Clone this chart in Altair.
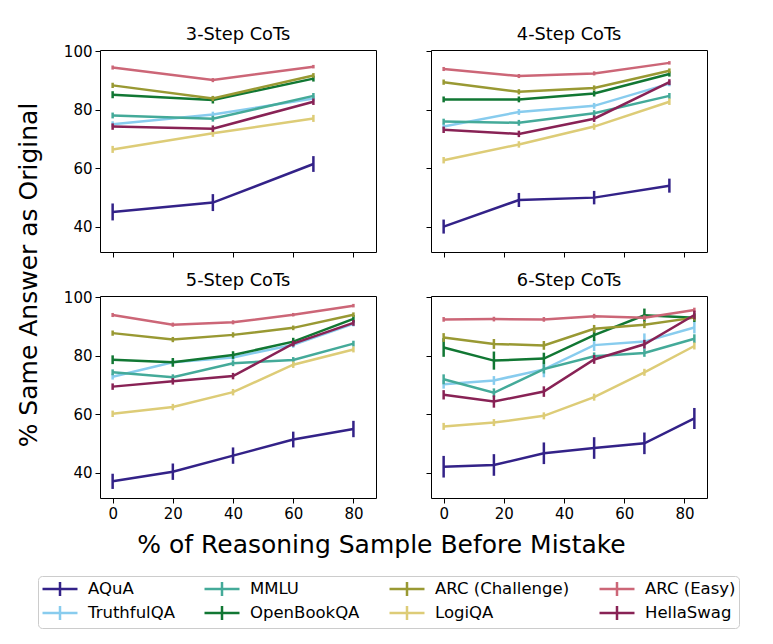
import altair as alt
import pandas as pd

# ---------------- data ----------------
series = ["AQuA", "TruthfulQA", "MMLU", "OpenBookQA",
          "ARC (Challenge)", "LogiQA", "ARC (Easy)", "HellaSwag"]
series_colors = ["#332288", "#88CCEE", "#44AA99", "#117733",
                 "#999933", "#DDCC77", "#CC6677", "#882255"]

panel_titles = ["3-Step CoTs", "4-Step CoTs", "5-Step CoTs", "6-Step CoTs"]
y_title = "% Same Answer as Original"
x_title = "% of Reasoning Sample Before Mistake"

x_3 = [0, 33.3, 66.7]
x_4 = [0, 25, 50, 75]
x_5 = [0, 20, 40, 60, 80]
x_6 = [0, 16.7, 33.3, 50, 66.7, 83.3]

vals_3 = {
    "AQuA":            [45.0, 48.2, 61.4],
    "TruthfulQA":      [75.0, 78.3, 83.8],
    "MMLU":            [78.0, 76.9, 84.7],
    "OpenBookQA":      [85.1, 83.3, 90.6],
    "ARC (Challenge)": [88.3, 83.8, 91.7],
    "LogiQA":          [66.4, 71.9, 77.0],
    "ARC (Easy)":      [94.4, 90.1, 94.7],
    "HellaSwag":       [74.2, 73.5, 82.7],
}
errs_3 = {
    "AQuA":            [2.9, 2.9, 2.7],
    "TruthfulQA":      [1.0, 1.0, 1.0],
    "MMLU":            [1.0, 1.0, 1.0],
    "OpenBookQA":      [1.2, 1.2, 1.0],
    "ARC (Challenge)": [0.9, 0.9, 0.8],
    "LogiQA":          [1.2, 1.2, 1.2],
    "ARC (Easy)":      [0.7, 0.7, 0.6],
    "HellaSwag":       [1.1, 1.1, 1.1],
}

vals_4 = {
    "AQuA":            [40.0, 49.1, 49.9, 54.0],
    "TruthfulQA":      [74.2, 79.2, 81.3, 88.9],
    "MMLU":            [75.9, 75.5, 78.8, 84.7],
    "OpenBookQA":      [83.5, 83.5, 85.5, 92.2],
    "ARC (Challenge)": [89.4, 86.1, 87.4, 93.3],
    "LogiQA":          [62.7, 68.1, 74.2, 82.7],
    "ARC (Easy)":      [93.9, 91.5, 92.4, 96.0],
    "HellaSwag":       [73.1, 71.7, 76.9, 89.4],
}
errs_4 = {
    "AQuA":            [2.4, 2.4, 2.3, 2.4],
    "TruthfulQA":      [1.0, 1.0, 1.0, 0.9],
    "MMLU":            [1.0, 1.0, 1.0, 1.0],
    "OpenBookQA":      [1.0, 1.0, 1.0, 0.9],
    "ARC (Challenge)": [0.9, 0.9, 0.9, 0.8],
    "LogiQA":          [1.1, 1.1, 1.1, 1.1],
    "ARC (Easy)":      [0.7, 0.7, 0.7, 0.6],
    "HellaSwag":       [1.1, 1.1, 1.1, 1.0],
}

vals_5 = {
    "AQuA":            [37.0, 40.3, 45.8, 51.3, 54.9],
    "TruthfulQA":      [72.8, 77.7, 79.4, 83.7, 90.9],
    "MMLU":            [74.3, 72.6, 77.4, 78.5, 84.1],
    "OpenBookQA":      [78.6, 77.7, 80.2, 84.8, 92.6],
    "ARC (Challenge)": [87.7, 85.5, 87.1, 89.5, 94.0],
    "LogiQA":          [60.1, 62.4, 67.5, 76.9, 82.1],
    "ARC (Easy)":      [93.9, 90.6, 91.4, 94.0, 97.1],
    "HellaSwag":       [69.4, 71.2, 73.0, 84.1, 91.2],
}
errs_5 = {
    "AQuA":            [2.6, 2.8, 2.8, 2.7, 2.8],
    "TruthfulQA":      [1.0, 1.0, 1.0, 1.0, 0.9],
    "MMLU":            [1.0, 1.0, 1.0, 1.0, 1.0],
    "OpenBookQA":      [1.5, 1.5, 1.3, 1.3, 1.3],
    "ARC (Challenge)": [0.9, 0.9, 0.9, 0.8, 0.8],
    "LogiQA":          [1.1, 1.1, 1.1, 1.1, 1.0],
    "ARC (Easy)":      [0.7, 0.7, 0.7, 0.6, 0.6],
    "HellaSwag":       [1.1, 1.1, 1.1, 1.0, 1.0],
}

vals_6 = {
    "AQuA":            [42.0, 42.6, 46.6, 48.4, 50.0, 58.5],
    "TruthfulQA":      [70.2, 71.5, 75.3, 83.6, 84.8, 89.6],
    "MMLU":            [71.9, 67.3, 75.4, 79.8, 80.9, 85.8],
    "OpenBookQA":      [82.8, 78.3, 79.0, 87.0, 93.8, 93.0],
    "ARC (Challenge)": [86.2, 84.0, 83.5, 89.2, 90.6, 93.0],
    "LogiQA":          [55.8, 57.1, 59.4, 65.8, 74.3, 83.3],
    "ARC (Easy)":      [92.4, 92.5, 92.4, 93.5, 93.0, 95.6],
    "HellaSwag":       [66.6, 64.3, 67.7, 78.7, 83.9, 93.9],
}
errs_6 = {
    "AQuA":            [3.7, 3.7, 3.7, 3.7, 3.7, 3.6],
    "TruthfulQA":      [1.5, 1.5, 2.7, 2.0, 2.8, 2.0],
    "MMLU":            [1.7, 1.5, 1.5, 1.3, 1.3, 1.5],
    "OpenBookQA":      [3.2, 3.1, 2.0, 2.0, 2.3, 1.5],
    "ARC (Challenge)": [1.5, 1.7, 1.5, 1.3, 1.2, 1.0],
    "LogiQA":          [1.2, 1.2, 1.2, 1.2, 1.2, 1.2],
    "ARC (Easy)":      [0.8, 0.8, 0.8, 0.8, 0.8, 0.8],
    "HellaSwag":       [1.6, 2.1, 1.8, 1.5, 1.5, 1.5],
}

x_ticks = [0, 20, 40, 60, 80]
y_ticks = [40, 60, 80, 100]

# ---------------- table ----------------
rows = []
for title, xs, vals, errs in zip(panel_titles, [x_3, x_4, x_5, x_6],
                                 [vals_3, vals_4, vals_5, vals_6],
                                 [errs_3, errs_4, errs_5, errs_6]):
    for s in series:
        for xv, v, e in zip(xs, vals[s], errs[s]):
            rows.append({"panel": title, "series": s, "x": xv, "y": v,
                         "lo": v - e, "hi": v + e})
df = pd.DataFrame(rows)

FONT = "DejaVu Sans"
X_DOM = [-4.2, 87.5]
Y_DOM = [31.3, 100.4]
PW, PH = 276, 202

color_enc = alt.Color(
    "series:N",
    scale=alt.Scale(domain=series, range=series_colors),
    legend=alt.Legend(
        title=None, orient="none", legendX=-62, legendY=526,
        columns=4, columnPadding=24, rowPadding=0,
        symbolType="M-2,0H2M0,-0.8V0.8", symbolSize=306,
        symbolOffset=9, symbolStrokeWidth=2.5, symbolFillColor="transparent",
        labelFontSize=16.5, labelFont=FONT, labelColor="black",
        labelOffset=18, padding=3, strokeColor="#cccccc",
        cornerRadius=4, fillColor="white",
    ),
)

title_style = dict(titleFont=FONT, titleFontSize=25, titleFontWeight="normal",
                   titleColor="black", titleAlign="center", titleBaseline="middle")


def panel(title, show_x, show_y, x_axis_title=None, y_axis_title=None):
    d = df[df["panel"] == title]
    x_axis = dict(values=x_ticks, labels=show_x, title=x_axis_title)
    y_axis = dict(values=y_ticks, labels=show_y, title=y_axis_title)
    if x_axis_title:
        x_axis.update(title_style, titleX=281, titleY=46)
    if y_axis_title:
        y_axis.update(title_style, titleX=-72, titleY=224.5, titleAngle=270)
    x_enc = alt.X("x:Q", scale=alt.Scale(domain=X_DOM, nice=False, zero=False),
                  axis=alt.Axis(**x_axis))
    y_enc = alt.Y("y:Q", scale=alt.Scale(domain=Y_DOM, nice=False, zero=False),
                  axis=alt.Axis(**y_axis))
    layers = []
    for s in series:
        ds = d[d["series"] == s]
        base = alt.Chart(ds)
        layers.append(base.mark_line(strokeWidth=2.5).encode(x=x_enc, y=y_enc, color=color_enc))
        layers.append(base.mark_rule(strokeWidth=2.5).encode(
            x=x_enc, y=alt.Y("lo:Q", scale=alt.Scale(domain=Y_DOM, nice=False, zero=False)),
            y2="hi:Q", color=color_enc))
    # panels with y labels have bounds reaching above the frame; compensate
    title_offset = 0 if show_y else 6
    return alt.layer(*layers).properties(
        width=PW, height=PH,
        title=alt.TitleParams(title, fontSize=17.8, fontWeight="normal", font=FONT,
                              anchor="middle", color="black", offset=title_offset,
                              frame="group"),
    )


chart = alt.concat(
    panel(panel_titles[0], False, True, y_axis_title=y_title),
    panel(panel_titles[1], False, False),
    panel(panel_titles[2], True, True, x_axis_title=x_title),
    panel(panel_titles[3], True, False),
    columns=2, spacing=alt.RowColnumber(row=44, column=55), bounds="flush",
).properties(
    padding={"left": 15, "top": 25, "right": 5, "bottom": 5},
).configure_view(stroke="black", strokeWidth=1).configure_axis(
    domain=False, grid=False, tickColor="black", tickSize=5, tickWidth=1,
    labelFontSize=15, labelFont=FONT, labelColor="black", labelPadding=3,
)

chart.save("out.html", embed_options={"renderer": "svg", "actions": False})
